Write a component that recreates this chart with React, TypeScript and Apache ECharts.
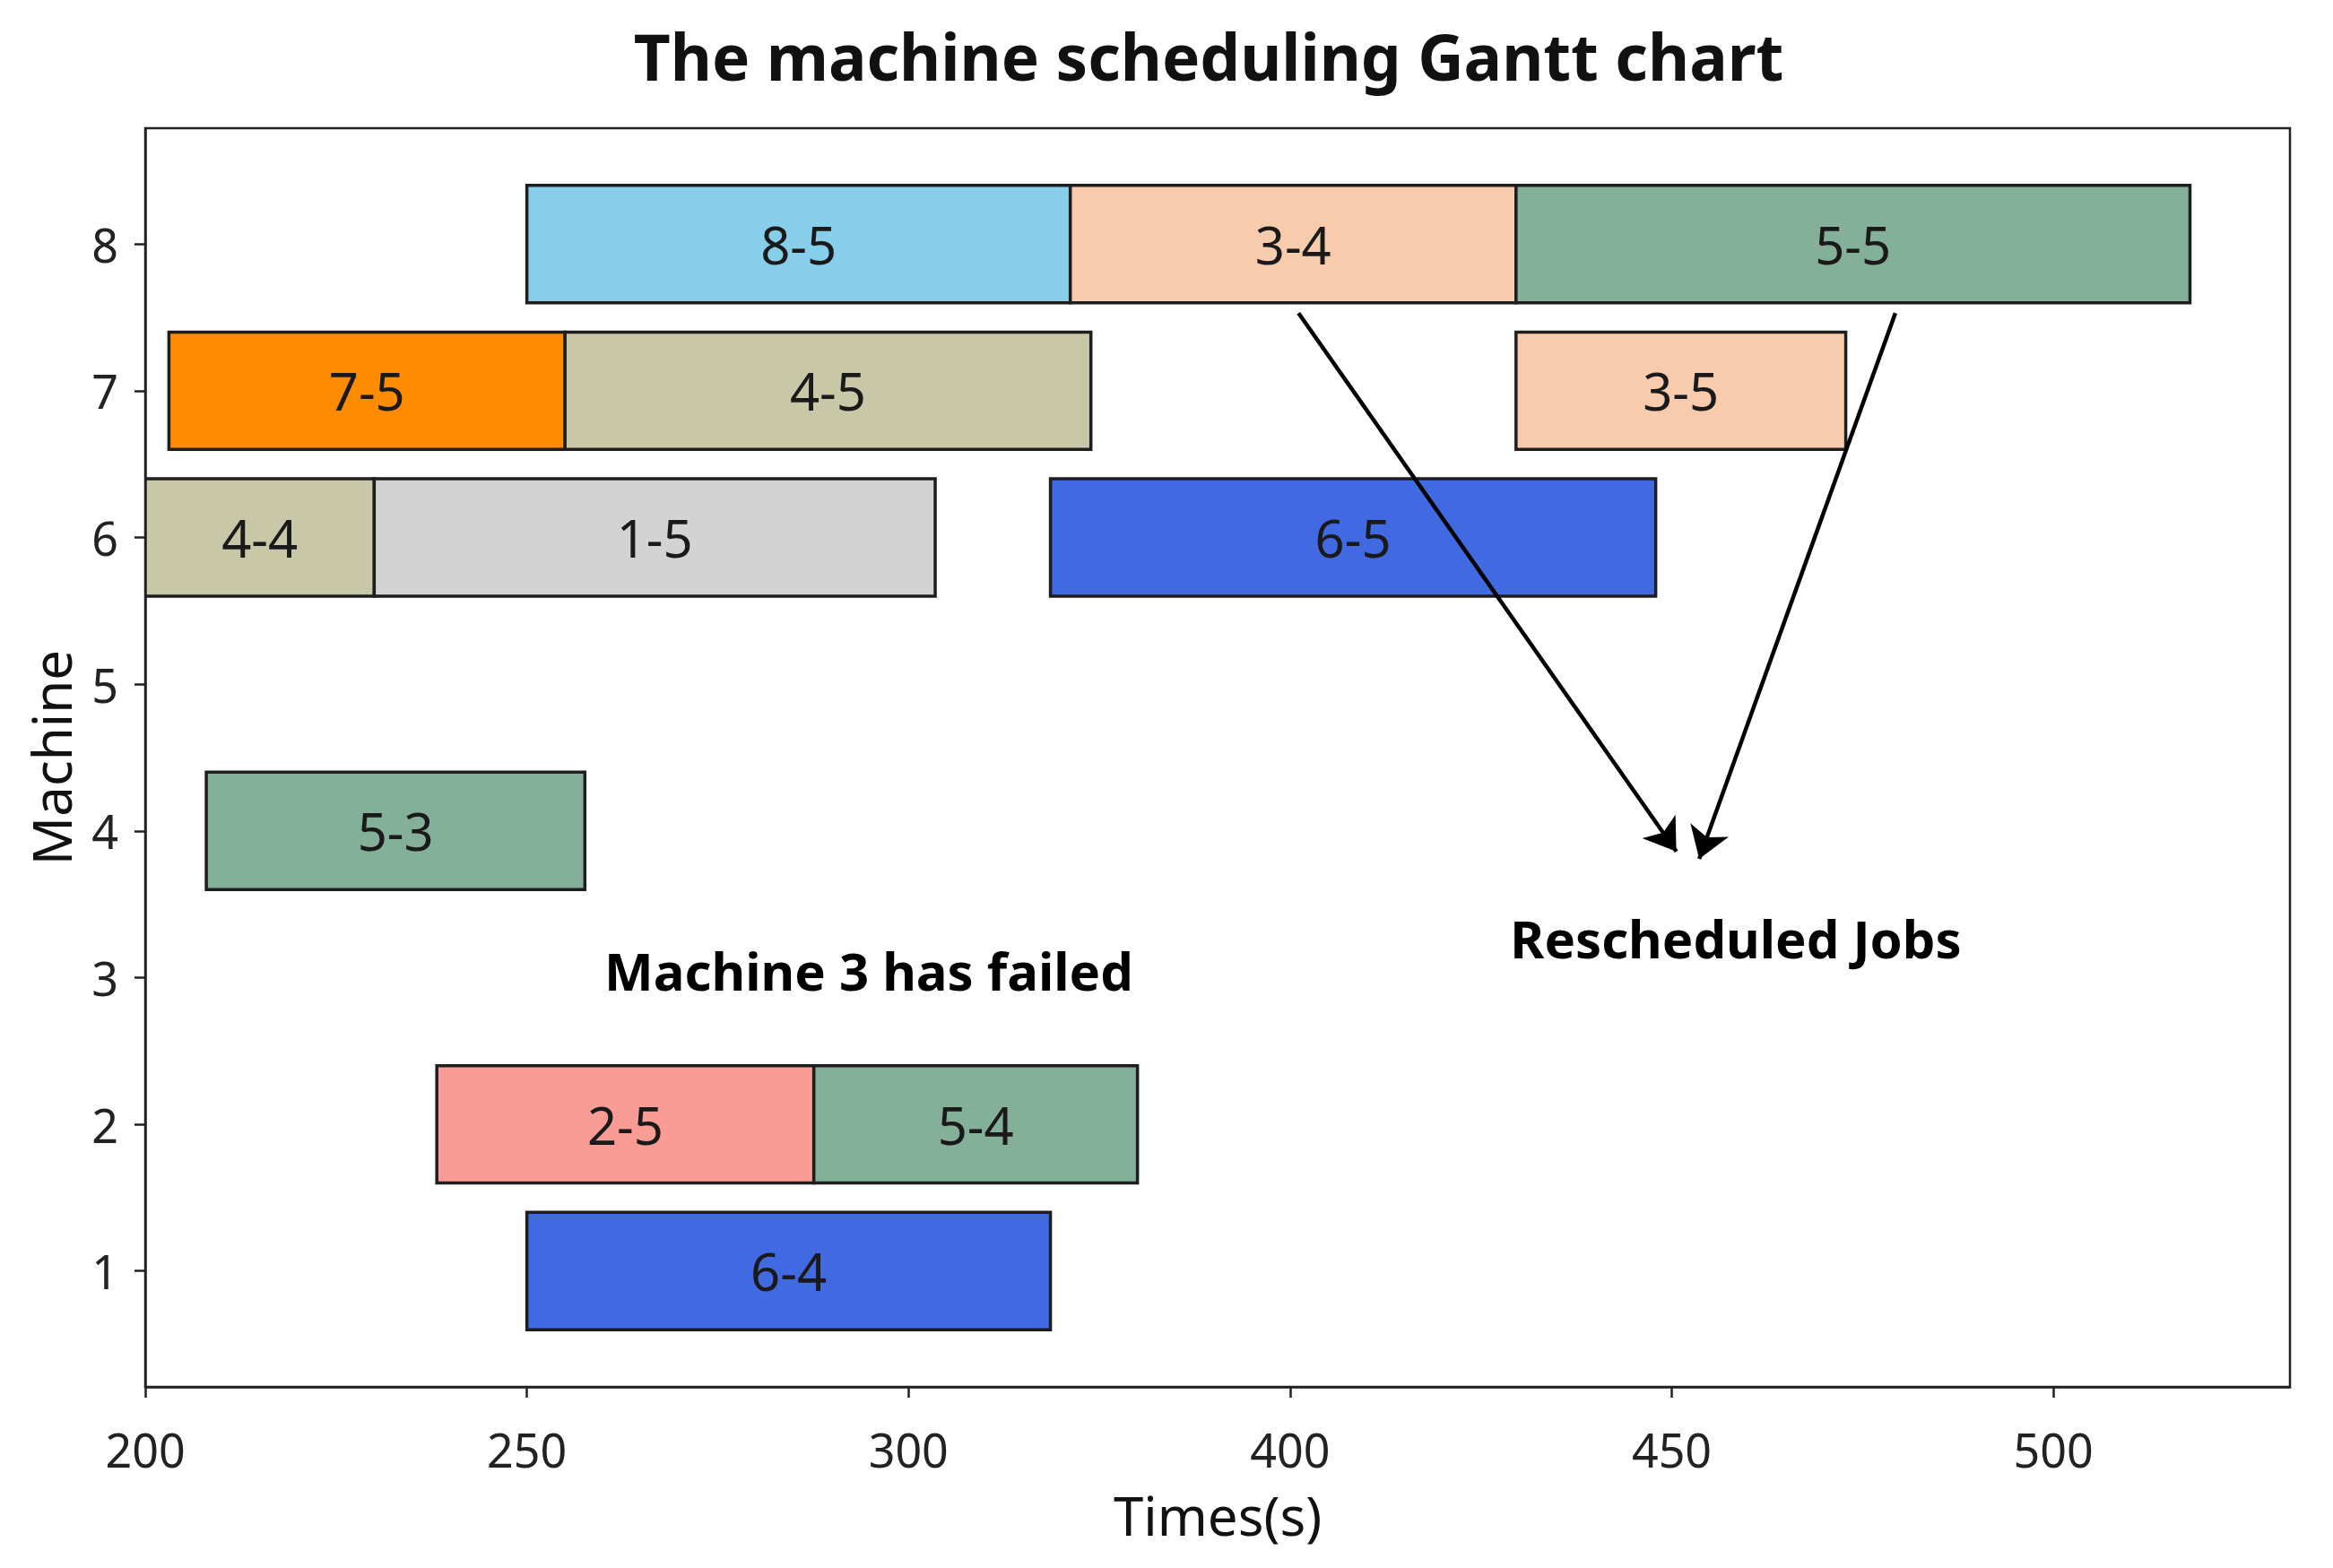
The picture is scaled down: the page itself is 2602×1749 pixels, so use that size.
import React, { useEffect, useRef } from "react";
import * as echarts from "echarts";

// ---- data ----
const JOB_LABELS = ["8-5", "3-4", "5-5", "7-5", "4-5", "3-5", "4-4", "1-5", "6-5", "5-3", "2-5", "5-4", "6-4"];
const JOB_MACHINE = [8, 8, 8, 7, 7, 7, 6, 6, 6, 4, 2, 2, 1];
const JOB_START = [250, 321.2, 379.6, 203.1, 255, 379.6, 200, 230, 318.6, 208, 238.2, 287.6, 250];
const JOB_END = [321.2, 379.6, 467.9, 255, 323.9, 422.8, 230, 303.5, 397.9, 257.6, 287.6, 330, 318.6];
const JOB_COLORS: Record<string, string> = {
  "1": "#D3D3D3",
  "2": "#F99C95",
  "3": "#F8CBAD",
  "4": "#C8C8A8",
  "5": "#84AF99",
  "6": "#4169E1",
  "7": "#FF8C00",
  "8": "#87CEEB",
};
const Y_TICKS = [1, 2, 3, 4, 5, 6, 7, 8];
const X_TICK_VALUES = [200, 250, 300, 350, 400, 450];
const X_TICK_LABELS = ["200", "250", "300", "400", "450", "500"];
const ARROW_FROM = [[351.1, 7.53], [429.3, 7.53]];
const ARROW_TO = [[400.6, 3.86], [403.6, 3.81]];
const NOTE_TEXTS = ["Machine 3 has failed", "Rescheduled Jobs"];
const NOTE_X = [294.8, 408.4];
const NOTE_Y = [3.05, 3.27];

const FONT = "'Noto Sans', 'DejaVu Sans', sans-serif";

export default function App() {
  const ref = useRef<HTMLDivElement>(null);
  useEffect(() => {
    document.body.style.margin = "0";
    if (!ref.current) return;
    const chart = echarts.init(ref.current, null, { renderer: "svg" });
    const barData = JOB_LABELS.map((l, i) => [JOB_START[i], JOB_END[i], JOB_MACHINE[i], l]);
    const option: any = {
      animation: false,
      backgroundColor: "#ffffff",
      title: {
        text: "The machine scheduling Gantt chart",
        left: 1343,
        textAlign: "center",
        top: 22,
        textStyle: { fontFamily: FONT, fontSize: 71, fontWeight: "bold", color: "#111" },
      },
      grid: {
        left: 162,
        right: 48,
        top: 143,
        bottom: 202,
        show: true,
        borderColor: "#222",
        borderWidth: 2.5,
        backgroundColor: "transparent",
      },
      xAxis: {
        type: "value",
        min: 200,
        max: 481,
        name: "Times(s)",
        nameLocation: "middle",
        nameGap: 112,
        nameTextStyle: { fontFamily: FONT, fontSize: 60, color: "#111", lineHeight: 62 },
        axisLine: { show: true, lineStyle: { color: "#222", width: 2.5 } },
        axisTick: { show: true, customValues: X_TICK_VALUES, length: 12, lineStyle: { color: "#222", width: 2.5 } },
        axisLabel: {
          customValues: X_TICK_VALUES,
          formatter: (v: number) => {
            const i = X_TICK_VALUES.indexOf(v);
            return i >= 0 ? X_TICK_LABELS[i] : "";
          },
          fontFamily: FONT,
          fontSize: 52,
          lineHeight: 54,
          color: "#222",
          margin: 42,
        },
        splitLine: { show: false },
      },
      yAxis: {
        type: "value",
        min: 0.21,
        max: 8.79,
        name: "Machine",
        nameLocation: "middle",
        nameGap: 75,
        nameTextStyle: { fontFamily: FONT, fontSize: 60, color: "#111" },
        axisLine: { show: true, lineStyle: { color: "#222", width: 2.5 } },
        axisTick: { show: true, customValues: Y_TICKS, length: 12, lineStyle: { color: "#222", width: 2.5 } },
        axisLabel: {
          customValues: Y_TICKS,
          fontFamily: FONT,
          fontSize: 52,
          color: "#222",
          margin: 30,
        },
        splitLine: { show: false },
      },
      series: [
        {
          type: "custom",
          clip: true,
          encode: { x: [0, 1], y: 2 },
          data: barData,
          renderItem: (params: any, api: any) => {
            const s = api.value(0);
            const e = api.value(1);
            const m = api.value(2);
            const p0 = api.coord([s, m + 0.4]);
            const p1 = api.coord([e, m - 0.4]);
            const label = JOB_LABELS[params.dataIndex];
            const job = label.split("-")[0];
            return {
              type: "rect",
              shape: { x: p0[0], y: p0[1], width: p1[0] - p0[0], height: p1[1] - p0[1] },
              style: { fill: JOB_COLORS[job], stroke: "#1e1e1e", lineWidth: 3.5 },
              textContent: {
                style: { text: label, fill: "#1a1a1a", fontSize: 58, fontFamily: FONT },
              },
              textConfig: { position: "inside" },
            };
          },
        },
        {
          type: "lines",
          coordinateSystem: "cartesian2d",
          polyline: false,
          data: ARROW_FROM.map((f, i) => ({ coords: [f, ARROW_TO[i]] })),
          lineStyle: { color: "#000", width: 4.5, opacity: 1, curveness: 0 },
          symbol: ["none", "arrow"],
          symbolSize: 34,
          z: 5,
        },
        {
          type: "custom",
          encode: { x: 0, y: 1 },
          data: NOTE_TEXTS.map((t, i) => [NOTE_X[i], NOTE_Y[i]]),
          renderItem: (params: any, api: any) => {
            const p = api.coord([api.value(0), api.value(1)]);
            return {
              type: "text",
              x: p[0],
              y: p[1],
              style: {
                text: NOTE_TEXTS[params.dataIndex],
                fill: "#000",
                fontFamily: FONT,
                fontSize: 58,
                fontWeight: "bold",
                align: "center",
                verticalAlign: "middle",
              },
            };
          },
          z: 6,
        },
      ],
    };
    chart.setOption(option);
    return () => chart.dispose();
  }, []);
  return <div ref={ref} style={{ width: 2602, height: 1749 }} />;
}
